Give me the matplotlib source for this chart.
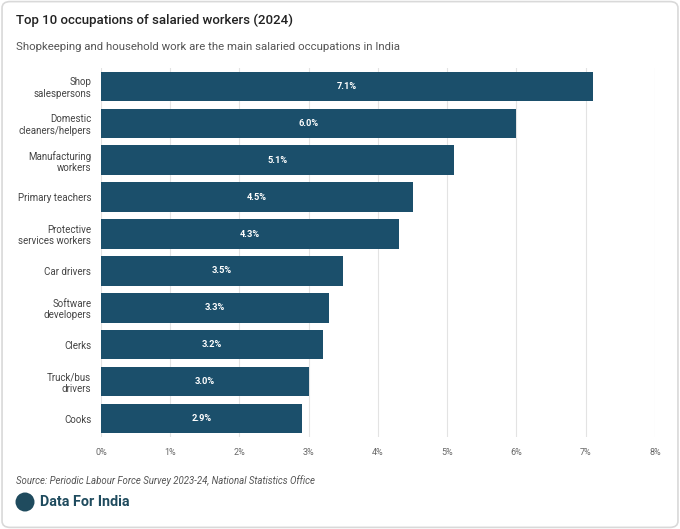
import matplotlib
matplotlib.use('Agg')
from matplotlib import pyplot as plt
from matplotlib.patches import FancyBboxPatch, Circle

occupations = ["Shop\nsalespersons", "Domestic\ncleaners/helpers", "Manufacturing\nworkers",
               "Primary teachers", "Protective\nservices workers", "Car drivers",
               "Software\ndevelopers", "Clerks", "Truck/bus\ndrivers", "Cooks"]
shares = [7.1, 6.0, 5.1, 4.5, 4.3, 3.5, 3.3, 3.2, 3.0, 2.9]
x_ticks = [0, 1, 2, 3, 4, 5, 6, 7, 8]

plt.rcParams['font.family'] = ['Roboto', 'DejaVu Sans']

bar_color = '#1b4f6b'
grid_color = '#e3e3e3'
text_grey = '#555555'

fig = plt.figure(figsize=(6.8, 5.29), dpi=100)
fig.patch.set_facecolor('white')
fig.patches.append(FancyBboxPatch((0.003, 0.003), 0.994, 0.994, boxstyle='round,pad=0,rounding_size=0.012',
                                  transform=fig.transFigure, facecolor='white', edgecolor='#d9d9d9',
                                  linewidth=1.2, zorder=-5))

ax = fig.add_axes([0.1485, 0.174, 0.8145, 0.6975])
ypos = list(range(len(occupations)))
ax.barh(ypos, shares, height=0.8, color=bar_color, zorder=3)
for y, v in zip(ypos, shares):
    ax.text(v / 2, y, f"{v:.1f}%", color='white', fontsize=6.7, fontweight='bold',
            ha='center', va='center', zorder=4)

ax.set_xlim(0, 8)
ax.set_ylim(len(occupations) - 0.5, -0.5)
ax.set_xticks(x_ticks)
ax.set_xticklabels([f"{t}%" for t in x_ticks])
ax.set_yticks(ypos)
ax.set_yticklabels(occupations, fontsize=7, color='#444444', linespacing=1.15)
ax.tick_params(axis='x', length=0, labelsize=6.5, labelcolor='#666666', pad=8)
ax.tick_params(axis='y', length=0, pad=7)
ax.grid(axis='x', color=grid_color, linewidth=0.8, zorder=0)
for s in ax.spines.values():
    s.set_visible(False)
ax.set_facecolor('none')

fig.text(0.0235, 0.962, "Top 10 occupations of salaried workers (2024)", fontsize=9.5,
         fontweight='medium', color='#222222', va='center')
fig.text(0.0235, 0.911, "Shopkeeping and household work are the main salaried occupations in India",
         fontsize=8.2, color=text_grey, va='center')
fig.text(0.0235, 0.092, "Source: Periodic Labour Force Survey 2023-24, National Statistics Office",
         fontsize=6.9, style='italic', color=text_grey, va='center')

fig.patches.append(Circle((0.25, (529 - 502) / 100), 0.095, transform=fig.dpi_scale_trans,
                          facecolor='#1f4b5e', edgecolor='none'))
fig.text(40 / 680, 1 - 502 / 529, "Data For India", fontsize=10.4, fontweight='semibold',
         color='#1f4b5e', va='center')

fig.savefig('out.png', dpi=100)
